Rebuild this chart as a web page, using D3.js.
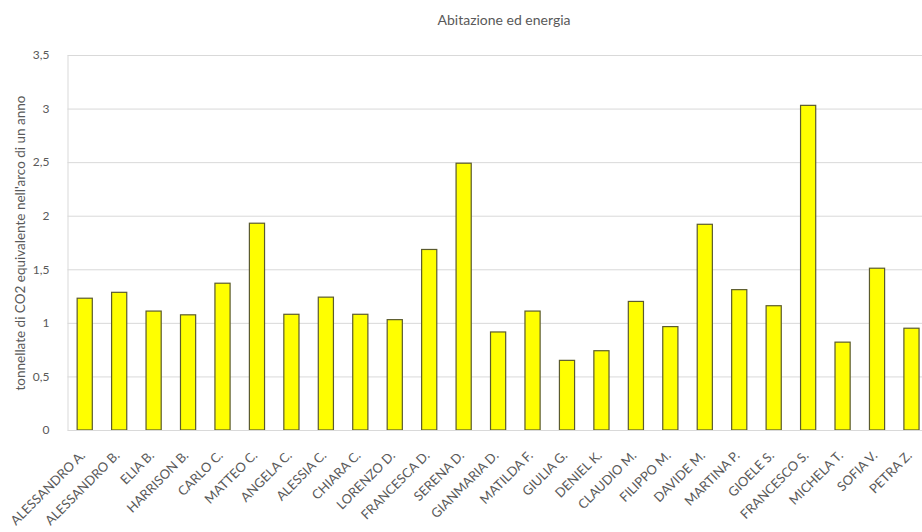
<!DOCTYPE html>
<html>
<head>
<meta charset="utf-8">
<script src="https://cdn.jsdelivr.net/npm/d3@7"></script>
<style>
  html, body { margin: 0; padding: 0; background: #fff; }
  svg { display: block; }
</style>
</head>
<body>
<svg id="chart" width="922" height="532"></svg>
<script>
const categories = ["ALESSANDRO A.", "ALESSANDRO B.", "ELIA B.", "HARRISON B.", "CARLO C.", "MATTEO C.", "ANGELA C.", "ALESSIA C.", "CHIARA C.", "LORENZO D.", "FRANCESCA D.", "SERENA D.", "GIANMARIA D.", "MATILDA F.", "GIULIA G.", "DENIEL K.", "CLAUDIO M.", "FILIPPO M.", "DAVIDE M.", "MARTINA P.", "GIOELE S.", "FRANCESCO S.", "MICHELA T.", "SOFIA V.", "PETRA Z."];
const values = [1.23, 1.285, 1.11, 1.075, 1.37, 1.93, 1.08, 1.24, 1.08, 1.03, 1.685, 2.49, 0.915, 1.11, 0.65, 0.74, 1.20, 0.965, 1.92, 1.31, 1.16, 3.03, 0.82, 1.51, 0.95];
const yTicks = [0, 0.5, 1, 1.5, 2, 2.5, 3, 3.5];
const title = "Abitazione ed energia";
const yTitle = "tonnellate di CO2 equivalente nell'arco di un anno";

const svg = d3.select("#chart");
const font = "Lato, 'Open Sans', sans-serif";
const textColor = "#595959";

const plot = { left: 67.5, right: 928.7, top: 55, bottom: 430 };

const x = d3.scaleBand().domain(categories).range([plot.left, plot.right]).paddingInner(0.56).paddingOuter(0.28);
const y = d3.scaleLinear().domain([0, 3.5]).range([plot.bottom, plot.top]);

const fmt = v => d3.format("")(v).replace(".", ",");

// gridlines
const yAxis = d3.axisLeft(y).tickValues(yTicks).tickSize(-(922 - plot.left)).tickFormat(fmt).tickPadding(18);
const gy = svg.append("g").attr("transform", `translate(${plot.left},0)`).call(yAxis);
gy.select(".domain").attr("stroke", "#d9d9d9");
gy.selectAll(".tick line").attr("stroke", "#d9d9d9").attr("stroke-width", 1);
gy.selectAll(".tick text").attr("fill", textColor).style("font-family", font).style("font-size", "12px");

// bars
svg.append("g").selectAll("rect").data(categories).join("rect")
  .attr("x", d => x(d))
  .attr("width", x.bandwidth())
  .attr("y", (d, i) => y(values[i]))
  .attr("height", (d, i) => y(0) - y(values[i]))
  .attr("fill", "#ffff00")
  .attr("stroke", "#5b5b2e")
  .attr("stroke-width", 1.2);

// x axis labels
const xAxis = d3.axisBottom(x).tickSize(0).tickPadding(0);
const gx = svg.append("g").attr("transform", `translate(0,${plot.bottom})`).call(xAxis);
gx.select(".domain").attr("stroke", "#d9d9d9");
gx.selectAll(".tick text")
  .attr("fill", textColor)
  .style("font-family", font)
  .style("font-size", "13px")
  .attr("text-anchor", "end")
  .attr("transform", "translate(-2,23) rotate(-45)")
  .attr("dy", "0.35em")
  .attr("y", 0);

// title
svg.append("text").attr("x", 504).attr("y", 25).attr("text-anchor", "middle")
  .attr("fill", textColor).style("font-family", font).style("font-size", "14px").text(title);

// y title
svg.append("text").attr("transform", `translate(25,243) rotate(-90)`).attr("text-anchor", "middle")
  .attr("fill", textColor).style("font-family", font).style("font-size", "13.5px").text(yTitle);
</script>
</body>
</html>
